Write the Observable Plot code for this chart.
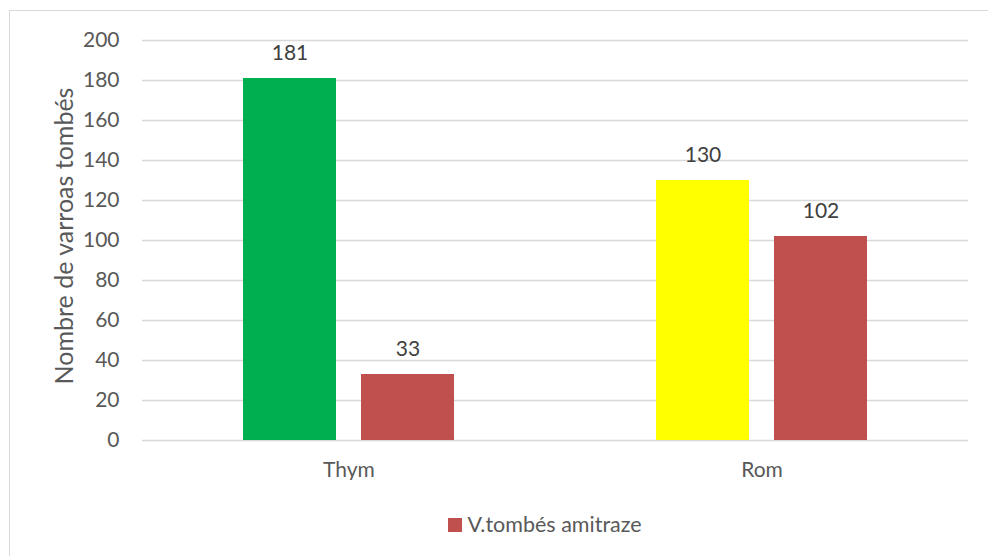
<!DOCTYPE html>
<html>
<head>
<meta charset="utf-8">
<script src="https://cdn.jsdelivr.net/npm/d3@7"></script>
<script src="https://cdn.jsdelivr.net/npm/@observablehq/plot@0.6"></script>
<style>
  html, body { margin: 0; padding: 0; background: #fff; overflow: hidden; width: 988px; height: 556px; }
  #frame { position: absolute; left: 9px; top: 10px; width: 1100px; height: 700px; border: 1px solid #d9d9d9; box-sizing: border-box; }
  #chart { position: absolute; left: 0; top: 0; }
  #ylabel { position: absolute; left: 63px; top: 236px; transform: translate(-50%, -50%) rotate(-90deg); white-space: nowrap; font-family: Lato, "Open Sans", sans-serif; font-size: 25px; color: #595959; }
  #legend { position: absolute; left: 0; top: 511px; width: 1090px; text-align: center; font-family: Lato, "Open Sans", sans-serif; font-size: 21.5px; color: #595959; }
  #legend .sw { display: inline-block; width: 14px; height: 14px; background: #c0504d; margin-right: 5px; vertical-align: 0px; }
</style>
</head>
<body>
<div id="frame"></div>
<div id="chart"></div>
<div id="ylabel"></div>
<div id="legend"></div>
<script>
// ---- data ----
const categories = ["Thym", "Rom"];
const seriesNames = ["V.tombés huile essentielle", "V.tombés amitraze"];
const treatmentValues = [181, 130];
const amitrazeValues = [33, 102];
const yTicks = [0, 20, 40, 60, 80, 100, 120, 140, 160, 180, 200];
const yLabel = "Nombre de varroas tombés";
const legendLabel = "V.tombés amitraze";

const rows = [];
categories.forEach((c, i) => {
  rows.push({category: c, series: seriesNames[0], value: treatmentValues[i], key: c});
  rows.push({category: c, series: seriesNames[1], value: amitrazeValues[i], key: seriesNames[1]});
});

const font = 'Lato, "Open Sans", sans-serif';
const fs = 21;
const plot = Plot.plot({
  width: 988,
  height: 480,
  marginLeft: 142,
  marginRight: 20,
  marginTop: 40,
  marginBottom: 40,
  style: {fontFamily: font, fontSize: fs + "px", color: "#595959", background: "transparent"},
  fx: {domain: categories, padding: 0, label: null},
  x: {domain: seriesNames, paddingInner: 0.212, paddingOuter: 0.856, axis: null},
  y: {domain: [0, 200], ticks: yTicks},
  color: {domain: ["Thym", "Rom", seriesNames[1]], range: ["#00b050", "#ffff00", "#c0504d"]},
  marks: [
    Plot.ruleY(yTicks, {stroke: "#d9d9d9", strokeWidth: 1.3, strokeOpacity: 1}),
    Plot.axisY({ticks: yTicks, tickSize: 0, tickPadding: 23, label: null, fill: "#595959", fontSize: fs}),
    Plot.axisFx({anchor: "bottom", tickSize: 0, tickPadding: 22, label: null, fill: "#595959", fontSize: fs}),
    Plot.barY(rows, {fx: "category", x: "series", y: "value", fill: "key"}),
    Plot.text(rows, {fx: "category", x: "series", y: "value", text: d => String(d.value), dy: -25, fill: "#404040", fontSize: fs})
  ]
});
document.getElementById("chart").appendChild(plot);
document.getElementById("ylabel").textContent = yLabel;
document.getElementById("legend").innerHTML = '<span class="sw"></span>' + legendLabel;
</script>
</body>
</html>
